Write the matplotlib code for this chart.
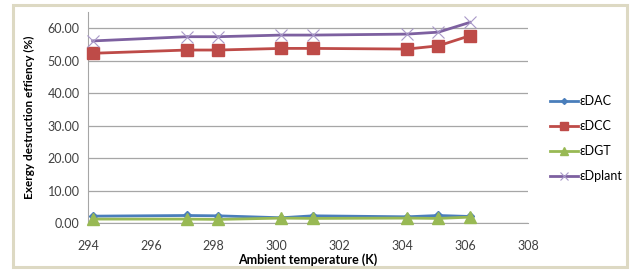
import matplotlib
matplotlib.use("Agg")
from matplotlib import pyplot as plt
from matplotlib.patches import Rectangle

# ambient temperature (K)
temps = [294.15, 297.15, 298.15, 300.15, 301.15, 304.15, 305.15, 306.15]

# exergy destruction efficiency (%)
e_dac = [2.2, 2.4, 2.3, 1.7, 2.3, 2.0, 2.4, 2.1]
e_dcc = [52.3, 53.3, 53.3, 53.8, 53.8, 53.6, 54.6, 57.7]
e_dgt = [1.3, 1.3, 1.2, 1.6, 1.5, 1.6, 1.5, 1.9]
e_dplant = [56.1, 57.4, 57.4, 57.9, 57.9, 58.2, 58.8, 61.8]

series_labels = ["εDAC", "εDCC", "εDGT", "εDplant"]
x_ticks = [294, 296, 298, 300, 302, 304, 306, 308]
y_ticks = [0, 10, 20, 30, 40, 50, 60]

plt.rcParams["font.family"] = ["Lato", "DejaVu Sans"]

fig = plt.figure(figsize=(6.34, 2.71), dpi=100)
fig.patch.set_facecolor("white")

# beige frame around the chart
fig.patches.append(Rectangle((13 / 634, 4 / 271), 614 / 634, 262 / 271,
                             transform=fig.transFigure, fill=False,
                             edgecolor="#ddd9c3", linewidth=2.2))

ax = fig.add_axes([88 / 634, (271 - 223.3) / 271, 440 / 634, 211.3 / 271])

styles = [
    dict(color="#4a7ebb", marker="D", markersize=4),
    dict(color="#be4b48", marker="s", markersize=8),
    dict(color="#98b954", marker="^", markersize=8),
    dict(color="#7d60a0", marker="x", markersize=8, markeredgewidth=0.8,
         markeredgecolor="#a898c8"),
]
for vals, lab, st in zip([e_dac, e_dcc, e_dgt, e_dplant], series_labels, styles):
    ax.plot(temps, vals, linewidth=2, label=lab, clip_on=False, zorder=3, **st)

ax.set_xlim(294, 308)
ax.set_ylim(0, 65)
ax.set_xticks(x_ticks)
ax.set_yticks(y_ticks)
ax.set_yticklabels([f"{v:.2f}" for v in y_ticks])
ax.grid(axis="y", color="#a6a6a6", linewidth=0.9)
ax.set_axisbelow(True)
for side in ["top", "right"]:
    ax.spines[side].set_visible(False)
for side in ["left", "bottom"]:
    ax.spines[side].set_color("#a6a6a6")
ax.tick_params(length=0, labelsize=9, colors="#404040", pad=6)
ax.tick_params(axis="x", pad=12)

ax.set_xlabel("Ambient temperature (K)", fontsize=9, fontweight="bold", labelpad=1)
ax.set_ylabel("Exergy destruction effiency (%)", fontsize=8.5, fontweight="bold",
              labelpad=9)

ax.legend(loc="center left", bbox_to_anchor=(1.025, 0.40), frameon=False,
          fontsize=9, handlelength=2.2, handletextpad=0.15, labelspacing=1.05,
          markerscale=0.75)

fig.savefig("out.png", dpi=100)
